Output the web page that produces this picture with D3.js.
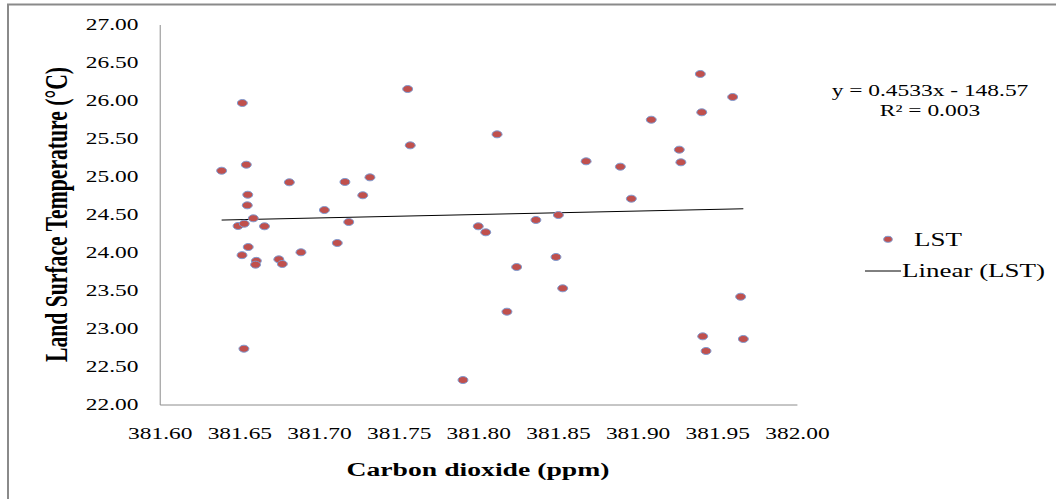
<!DOCTYPE html>
<html>
<head>
<meta charset="utf-8">
<script src="https://cdn.jsdelivr.net/npm/d3@7"></script>
<style>
    body { margin: 0; background: #fff; }
    svg { display: block; }
    text { font-family: "Liberation Serif", "Times New Roman", serif; fill: #000; }
</style>
</head>
<body>
<svg id="chart"></svg>
<script>
"use strict";

// Carbon dioxide (ppm) vs land surface temperature, one value per point
const co2 = [381.652, 381.639, 381.6545, 381.6815, 381.7164, 381.6554, 381.6551, 381.7035, 381.6589, 381.6493,
    381.6532, 381.6659, 381.7188, 381.7116, 381.6557, 381.6518, 381.6608, 381.6603, 381.6749, 381.6771,
    381.6888, 381.653, 381.7276, 381.7321, 381.7558, 381.7574, 381.8119, 381.8001, 381.8048, 381.8363,
    381.8504, 381.8678, 381.8893, 381.8962, 381.9087, 381.9263, 381.9273, 381.9395, 381.9404, 381.9598,
    381.8489, 381.8242, 381.8531, 381.8181, 381.7905, 381.941, 381.9431, 381.9648, 381.9665];
const lst = [25.967, 25.076, 25.155, 24.924, 24.928, 24.76, 24.621, 24.559, 24.45, 24.349,
    24.379, 24.345, 24.401, 24.125, 24.072, 23.965, 23.89, 23.84, 23.91, 23.849,
    24.003, 22.734, 24.753, 24.989, 26.151, 25.41, 25.555, 24.345, 24.266, 24.428,
    24.493, 25.2, 25.129, 24.708, 25.747, 25.353, 25.187, 26.349, 25.845, 26.046,
    23.941, 23.809, 23.529, 23.221, 22.322, 22.897, 22.704, 23.418, 22.862];

const xTicks = [381.60, 381.65, 381.70, 381.75, 381.80, 381.85, 381.90, 381.95, 382.00];
const yTicks = [22.00, 22.50, 23.00, 23.50, 24.00, 24.50, 25.00, 25.50, 26.00, 26.50, 27.00];

// trend line as printed on the chart
const slope = 0.4533;
const intercept = -148.57;

const W = 1056, H = 499;
const SX = 1.42; // the picture is stretched sideways, so draw in a narrower box and stretch it
const vx = p => p / SX;

const svg = d3.select("#chart")
    .attr("width", W)
    .attr("height", H)
    .attr("viewBox", `0 0 ${W / SX} ${H}`)
    .attr("preserveAspectRatio", "none");

const plot = { left: 159.5, right: 796.7, top: 24.5, bottom: 404.5 };

// outer frame, only top and left show
svg.append("path")
    .attr("d", `M${vx(8)},${H + 5} V4.5 H${W / SX + 5}`)
    .attr("fill", "none")
    .attr("stroke", "#8a8a8a")
    .attr("stroke-width", 2)
    .attr("vector-effect", "non-scaling-stroke");

const xScale = d3.scaleLinear()
    .domain([381.60, 382.00])
    .range([vx(plot.left), vx(plot.right)]);

const yScale = d3.scaleLinear()
    .domain([22, 27])
    .range([plot.bottom, plot.top]);

const xAxis = svg.append("g")
    .attr("transform", `translate(0, ${plot.bottom})`)
    .call(d3.axisBottom(xScale).tickValues(xTicks).tickFormat(d3.format(".2f"))
        .tickSize(0).tickPadding(23));

const yAxis = svg.append("g")
    .attr("transform", `translate(${vx(plot.left)}, 0)`)
    .call(d3.axisLeft(yScale).tickValues(yTicks).tickFormat(d3.format(".2f"))
        .tickSize(0).tickPadding(vx(21)));

[xAxis, yAxis].forEach(ax => {
    ax.attr("font-family", null).attr("font-size", null);
    ax.select(".domain")
        .attr("stroke", "#8c8c8c")
        .attr("stroke-width", 1)
        .attr("vector-effect", "non-scaling-stroke");
    ax.selectAll("text")
        .attr("font-size", 16.5)
        .attr("fill", "#000");
});

// trend line over the data range
const xMin = d3.min(co2), xMax = d3.max(co2);
svg.append("line")
    .attr("x1", xScale(xMin))
    .attr("y1", yScale(slope * xMin + intercept))
    .attr("x2", xScale(xMax))
    .attr("y2", yScale(slope * xMax + intercept))
    .attr("stroke", "#000")
    .attr("stroke-width", 1)
    .attr("vector-effect", "non-scaling-stroke");

svg.append("g")
    .selectAll("circle")
    .data(co2)
    .join("circle")
    .attr("cx", (d, i) => xScale(d))
    .attr("cy", (d, i) => yScale(lst[i]))
    .attr("r", 3.5)
    .attr("fill", "#c0504d")
    .attr("stroke", "#7f9ad0")
    .attr("stroke-width", 1)
    .attr("vector-effect", "non-scaling-stroke");

// equation
svg.append("text")
    .attr("x", vx(930))
    .attr("y", 96)
    .attr("text-anchor", "middle")
    .attr("font-size", 16.5)
    .text("y = 0.4533x - 148.57");

svg.append("text")
    .attr("x", vx(930))
    .attr("y", 116.5)
    .attr("text-anchor", "middle")
    .attr("font-size", 16.5)
    .text("R² = 0.003");

// legend
svg.append("circle")
    .attr("cx", vx(888))
    .attr("cy", 239.3)
    .attr("r", 3)
    .attr("fill", "#c0504d")
    .attr("stroke", "#7f9ad0")
    .attr("stroke-width", 1)
    .attr("vector-effect", "non-scaling-stroke");

svg.append("text")
    .attr("x", vx(914))
    .attr("y", 246.5)
    .attr("font-size", 19)
    .text("LST");

svg.append("line")
    .attr("x1", vx(865))
    .attr("x2", vx(901))
    .attr("y1", 271)
    .attr("y2", 271)
    .attr("stroke", "#000")
    .attr("stroke-width", 1)
    .attr("vector-effect", "non-scaling-stroke");

svg.append("text")
    .attr("x", vx(902))
    .attr("y", 277.5)
    .attr("font-size", 19)
    .text("Linear (LST)");

// axis titles
svg.append("text")
    .attr("font-size", 19.5)
    .attr("font-weight", "bold")
    .attr("text-anchor", "middle")
    .attr("x", vx(478))
    .attr("y", 476.5)
    .text("Carbon dioxide (ppm)");

svg.append("text")
    .attr("font-size", 22)
    .attr("font-weight", "bold")
    .attr("text-anchor", "middle")
    .attr("dominant-baseline", "central")
    .attr("textLength", 295)
    .attr("lengthAdjust", "spacingAndGlyphs")
    .attr("transform", `translate(${vx(56.5)} 214.5) rotate(-90)`)
    .text("Land Surface Temperature (°C)");
</script>
</body>
</html>
